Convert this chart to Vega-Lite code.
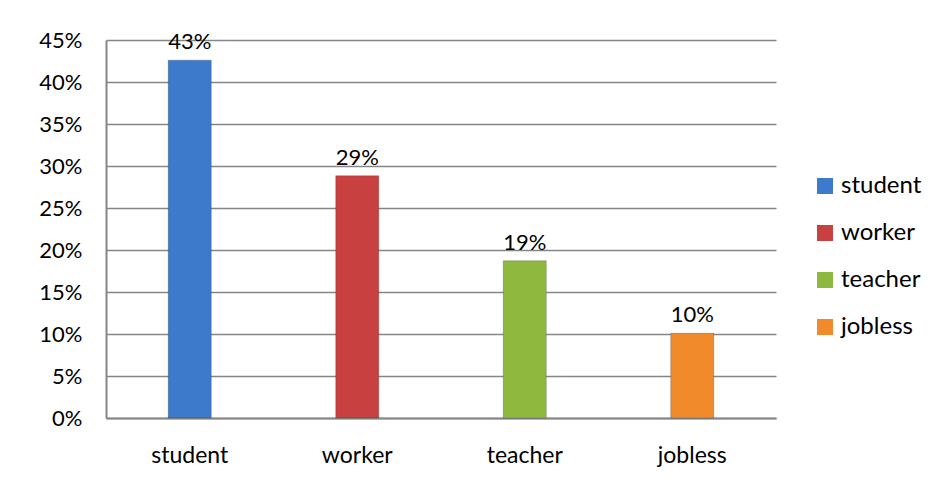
{
  "$schema": "https://vega.github.io/schema/vega-lite/v6.json",
  "autosize": "none",
  "width": 670,
  "height": 378,
  "padding": {"left": 106, "top": 40, "right": 157, "bottom": 76},
  "background": "white",
  "config": {
    "font": "Lato",
    "view": {"stroke": null},
    "axis": {"labelFont": "Lato", "labelFontSize": 22, "labelColor": "#000000", "ticks": false, "domainColor": "#868686", "domainWidth": 2, "gridColor": "#868686", "gridWidth": 1.5, "title": null}
  },
  "data": {
    "values": [
      {"category": "student", "value": 0.426, "label": "43%"},
      {"category": "worker", "value": 0.2885, "label": "29%"},
      {"category": "teacher", "value": 0.1873, "label": "19%"},
      {"category": "jobless", "value": 0.1008, "label": "10%"}
    ]
  },
  "encoding": {
    "x": {
      "field": "category", "type": "nominal", "sort": null,
      "scale": {"paddingInner": 0.743, "paddingOuter": 0.3715},
      "axis": {"labelAngle": 0, "labelPadding": 26, "labelFontSize": 23, "grid": false}
    },
    "y": {
      "field": "value", "type": "quantitative",
      "scale": {"domain": [0, 0.45], "nice": false},
      "axis": {"format": ".0%", "values": [0, 0.05, 0.1, 0.15, 0.2, 0.25, 0.3, 0.35, 0.4, 0.45], "labelPadding": 24, "grid": true, "domain": true}
    }
  },
  "layer": [
    {
      "mark": {"type": "bar", "stroke": "#00000030", "strokeWidth": 1},
      "encoding": {
        "color": {
          "field": "category", "type": "nominal", "sort": null,
          "scale": {"domain": ["student", "worker", "teacher", "jobless"], "range": ["#3d7acb", "#c94040", "#8fb83f", "#f08a2b"]},
          "legend": {
            "orient": "none", "legendX": 707, "legendY": 134, "title": null,
            "symbolType": "square", "symbolSize": 256, "symbolStrokeWidth": 0,
            "labelFont": "Lato", "labelFontSize": 24, "labelColor": "#000000",
            "labelOffset": 4, "rowPadding": 23
          }
        }
      }
    },
    {
      "mark": {"type": "text", "baseline": "bottom", "dy": -6, "font": "Lato", "fontSize": 22, "color": "#000000"},
      "encoding": {"text": {"field": "label"}}
    }
  ]
}
